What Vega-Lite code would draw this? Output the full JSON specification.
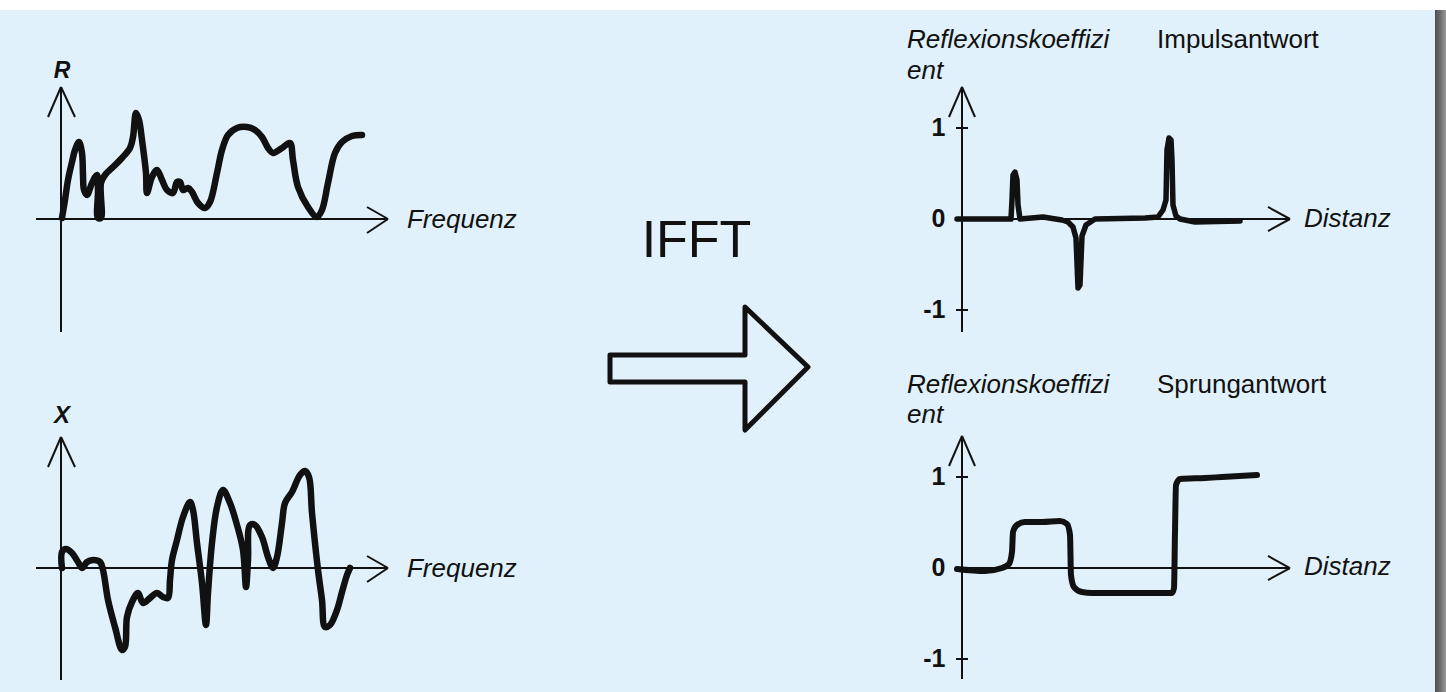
{
  "$schema": "https://vega.github.io/schema/vega-lite/v6.json",
  "background": "#ffffff",
  "padding": {"left": 0, "top": 10, "right": 0, "bottom": 0},
  "spacing": 0,
  "config": {
    "view": {"stroke": null, "fill": "#e0f1fb"},
    "text": {"font": "Liberation Sans", "color": "#111111"},
    "rule": {"color": "#111111"},
    "line": {"color": "#111111"}
  },
  "datasets": {
    "R": [
      {"i":0,"frequenz":0.033,"wert":0.01},{"i":1,"frequenz":0.133,"wert":0.19},{"i":2,"frequenz":0.233,"wert":0.39},{"i":3,"frequenz":0.367,"wert":0.57},{"i":4,"frequenz":0.467,"wert":0.69},{"i":5,"frequenz":0.6,"wert":0.77},{"i":6,"frequenz":0.7,"wert":0.66},{"i":7,"frequenz":0.733,"wert":0.44},{"i":8,"frequenz":0.767,"wert":0.29},{"i":9,"frequenz":0.867,"wert":0.24},{"i":10,"frequenz":1.033,"wert":0.36},{"i":11,"frequenz":1.2,"wert":0.44},{"i":12,"frequenz":1.233,"wert":0.29},{"i":13,"frequenz":1.233,"wert":0.01},{"i":14,"frequenz":1.333,"wert":0.01},{"i":15,"frequenz":1.333,"wert":0.36},{"i":16,"frequenz":1.467,"wert":0.44},{"i":17,"frequenz":1.733,"wert":0.52},{"i":18,"frequenz":2.033,"wert":0.61},{"i":19,"frequenz":2.3,"wert":0.71},{"i":20,"frequenz":2.4,"wert":0.82},{"i":21,"frequenz":2.5,"wert":1.06},{"i":22,"frequenz":2.6,"wert":0.99},{"i":23,"frequenz":2.7,"wert":0.79},{"i":24,"frequenz":2.833,"wert":0.46},{"i":25,"frequenz":2.867,"wert":0.26},{"i":26,"frequenz":3.033,"wert":0.42},{"i":27,"frequenz":3.2,"wert":0.49},{"i":28,"frequenz":3.367,"wert":0.39},{"i":29,"frequenz":3.533,"wert":0.29},{"i":30,"frequenz":3.733,"wert":0.26},{"i":31,"frequenz":3.867,"wert":0.37},{"i":32,"frequenz":3.967,"wert":0.37},{"i":33,"frequenz":4.067,"wert":0.29},{"i":34,"frequenz":4.233,"wert":0.31},{"i":35,"frequenz":4.367,"wert":0.27},{"i":36,"frequenz":4.567,"wert":0.16},{"i":37,"frequenz":4.8,"wert":0.11},{"i":38,"frequenz":4.967,"wert":0.17},{"i":39,"frequenz":5.2,"wert":0.46},{"i":40,"frequenz":5.367,"wert":0.69},{"i":41,"frequenz":5.567,"wert":0.84},{"i":42,"frequenz":5.867,"wert":0.91},{"i":43,"frequenz":6.2,"wert":0.92},{"i":44,"frequenz":6.467,"wert":0.89},{"i":45,"frequenz":6.7,"wert":0.82},{"i":46,"frequenz":6.9,"wert":0.71},{"i":47,"frequenz":7.067,"wert":0.66},{"i":48,"frequenz":7.367,"wert":0.71},{"i":49,"frequenz":7.633,"wert":0.76},{"i":50,"frequenz":7.733,"wert":0.59},{"i":51,"frequenz":7.9,"wert":0.32},{"i":52,"frequenz":8.233,"wert":0.12},{"i":53,"frequenz":8.533,"wert":0.02},{"i":54,"frequenz":8.7,"wert":0.09},{"i":55,"frequenz":8.9,"wert":0.36},{"i":56,"frequenz":9.133,"wert":0.66},{"i":57,"frequenz":9.367,"wert":0.77},{"i":58,"frequenz":9.7,"wert":0.83},{"i":59,"frequenz":10.033,"wert":0.84}
    ],
    "X": [
      {"i":0,"frequenz":0.033,"wert":0},{"i":1,"frequenz":0.033,"wert":0.16},{"i":2,"frequenz":0.167,"wert":0.19},{"i":3,"frequenz":0.367,"wert":0.15},{"i":4,"frequenz":0.567,"wert":0.06},{"i":5,"frequenz":0.7,"wert":0.0},{"i":6,"frequenz":0.867,"wert":0.06},{"i":7,"frequenz":1.067,"wert":0.08},{"i":8,"frequenz":1.3,"wert":0.06},{"i":9,"frequenz":1.4,"wert":-0.02},{"i":10,"frequenz":1.567,"wert":-0.32},{"i":11,"frequenz":1.8,"wert":-0.59},{"i":12,"frequenz":2.033,"wert":-0.82},{"i":13,"frequenz":2.133,"wert":-0.79},{"i":14,"frequenz":2.2,"wert":-0.49},{"i":15,"frequenz":2.367,"wert":-0.34},{"i":16,"frequenz":2.567,"wert":-0.25},{"i":17,"frequenz":2.733,"wert":-0.35},{"i":18,"frequenz":2.967,"wert":-0.30},{"i":19,"frequenz":3.2,"wert":-0.25},{"i":20,"frequenz":3.4,"wert":-0.29},{"i":21,"frequenz":3.567,"wert":-0.30},{"i":22,"frequenz":3.633,"wert":-0.12},{"i":23,"frequenz":3.7,"wert":0.08},{"i":24,"frequenz":3.867,"wert":0.28},{"i":25,"frequenz":4.067,"wert":0.51},{"i":26,"frequenz":4.3,"wert":0.66},{"i":27,"frequenz":4.4,"wert":0.58},{"i":28,"frequenz":4.533,"wert":0.25},{"i":29,"frequenz":4.7,"wert":-0.15},{"i":30,"frequenz":4.833,"wert":-0.57},{"i":31,"frequenz":4.9,"wert":-0.25},{"i":32,"frequenz":5.033,"wert":0.25},{"i":33,"frequenz":5.2,"wert":0.61},{"i":34,"frequenz":5.4,"wert":0.78},{"i":35,"frequenz":5.633,"wert":0.65},{"i":36,"frequenz":5.867,"wert":0.43},{"i":37,"frequenz":6.067,"wert":0.18},{"i":38,"frequenz":6.167,"wert":-0.19},{"i":39,"frequenz":6.233,"wert":0.08},{"i":40,"frequenz":6.3,"wert":0.43},{"i":41,"frequenz":6.467,"wert":0.43},{"i":42,"frequenz":6.7,"wert":0.31},{"i":43,"frequenz":6.9,"wert":0.11},{"i":44,"frequenz":7.067,"wert":0.0},{"i":45,"frequenz":7.2,"wert":0.11},{"i":46,"frequenz":7.367,"wert":0.45},{"i":47,"frequenz":7.467,"wert":0.65},{"i":48,"frequenz":7.7,"wert":0.76},{"i":49,"frequenz":7.967,"wert":0.93},{"i":50,"frequenz":8.133,"wert":0.97},{"i":51,"frequenz":8.267,"wert":0.91},{"i":52,"frequenz":8.367,"wert":0.55},{"i":53,"frequenz":8.567,"wert":-0.02},{"i":54,"frequenz":8.7,"wert":-0.32},{"i":55,"frequenz":8.8,"wert":-0.59},{"i":56,"frequenz":8.967,"wert":-0.57},{"i":57,"frequenz":9.2,"wert":-0.42},{"i":58,"frequenz":9.367,"wert":-0.24},{"i":59,"frequenz":9.533,"wert":-0.07},{"i":60,"frequenz":9.633,"wert":0.0}
    ],
    "impuls": [
      {"i":0,"distanz":-0.167,"koeff":0},{"i":1,"distanz":1.633,"koeff":0},{"i":2,"distanz":1.667,"koeff":0.209},{"i":3,"distanz":1.7,"koeff":0.484},{"i":4,"distanz":1.767,"koeff":0.516},{"i":5,"distanz":1.833,"koeff":0.429},{"i":6,"distanz":1.867,"koeff":0.154},{"i":7,"distanz":1.933,"koeff":0},{"i":8,"distanz":2.7,"koeff":0.022},{"i":9,"distanz":3.333,"koeff":-0.011},{"i":10,"distanz":3.533,"koeff":-0.033},{"i":11,"distanz":3.7,"koeff":-0.088},{"i":12,"distanz":3.8,"koeff":-0.209},{"i":13,"distanz":3.867,"koeff":-0.758},{"i":14,"distanz":3.933,"koeff":-0.725},{"i":15,"distanz":4.0,"koeff":-0.187},{"i":16,"distanz":4.133,"koeff":-0.066},{"i":17,"distanz":4.433,"koeff":0},{"i":18,"distanz":6.1,"koeff":0.011},{"i":19,"distanz":6.533,"koeff":0.022},{"i":20,"distanz":6.7,"koeff":0.099},{"i":21,"distanz":6.8,"koeff":0.209},{"i":22,"distanz":6.833,"koeff":0.758},{"i":23,"distanz":6.9,"koeff":0.89},{"i":24,"distanz":6.967,"koeff":0.868},{"i":25,"distanz":7.0,"koeff":0.648},{"i":26,"distanz":7.033,"koeff":0.154},{"i":27,"distanz":7.133,"koeff":0.033},{"i":28,"distanz":7.267,"koeff":0},{"i":29,"distanz":7.767,"koeff":-0.033},{"i":30,"distanz":9.267,"koeff":-0.022}
    ],
    "sprung": [
      {"i":0,"distanz":-0.167,"koeff":-0.011},{"i":1,"distanz":0.767,"koeff":-0.033},{"i":2,"distanz":1.333,"koeff":0},{"i":3,"distanz":1.567,"koeff":0.044},{"i":4,"distanz":1.667,"koeff":0.176},{"i":5,"distanz":1.7,"koeff":0.396},{"i":6,"distanz":1.833,"koeff":0.473},{"i":7,"distanz":2.1,"koeff":0.505},{"i":8,"distanz":2.667,"koeff":0.505},{"i":9,"distanz":3.267,"koeff":0.516},{"i":10,"distanz":3.5,"koeff":0.484},{"i":11,"distanz":3.6,"koeff":0.363},{"i":12,"distanz":3.633,"koeff":-0.077},{"i":13,"distanz":3.733,"koeff":-0.209},{"i":14,"distanz":4.0,"koeff":-0.264},{"i":15,"distanz":4.333,"koeff":-0.275},{"i":16,"distanz":7.0,"koeff":-0.275},{"i":17,"distanz":7.067,"koeff":-0.22},{"i":18,"distanz":7.1,"koeff":0.396},{"i":19,"distanz":7.133,"koeff":0.912},{"i":20,"distanz":7.267,"koeff":0.978},{"i":21,"distanz":8.1,"koeff":0.989},{"i":22,"distanz":8.667,"koeff":1.0},{"i":23,"distanz":9.833,"koeff":1.022}
    ],
    "achsen_R": [
      {"frequenz":0,"wert":-1.13,"frequenz2":0,"wert2":1.32},
      {"frequenz":0,"wert":1.32,"frequenz2":-0.433,"wert2":1.02},
      {"frequenz":0,"wert":1.32,"frequenz2":0.467,"wert2":1.02},
      {"frequenz":-0.833,"wert":0,"frequenz2":10.9,"wert2":0},
      {"frequenz":10.9,"wert":0,"frequenz2":10.2,"wert2":0.12},
      {"frequenz":10.9,"wert":0,"frequenz2":10.2,"wert2":-0.14}
    ],
    "achsen_X": [
      {"frequenz":0,"wert":-1.12,"frequenz2":0,"wert2":1.31},
      {"frequenz":0,"wert":1.31,"frequenz2":-0.433,"wert2":1.01},
      {"frequenz":0,"wert":1.31,"frequenz2":0.467,"wert2":1.01},
      {"frequenz":-0.833,"wert":0,"frequenz2":10.9,"wert2":0},
      {"frequenz":10.9,"wert":0,"frequenz2":10.2,"wert2":0.12},
      {"frequenz":10.9,"wert":0,"frequenz2":10.2,"wert2":-0.14}
    ],
    "achsen_impuls": [
      {"distanz":0,"koeff":-1.242,"distanz2":0,"koeff2":1.451},
      {"distanz":0,"koeff":1.451,"distanz2":-0.433,"koeff2":1.121},
      {"distanz":0,"koeff":1.451,"distanz2":0.433,"koeff2":1.121},
      {"distanz":-0.233,"koeff":0,"distanz2":10.933,"koeff2":0},
      {"distanz":10.933,"koeff":0,"distanz2":10.2,"koeff2":0.132},
      {"distanz":10.933,"koeff":0,"distanz2":10.2,"koeff2":-0.132},
      {"distanz":-0.2,"koeff":1,"distanz2":0.2,"koeff2":1},
      {"distanz":-0.2,"koeff":-1,"distanz2":0.2,"koeff2":-1}
    ],
    "achsen_sprung": [
      {"distanz":0,"koeff":-1.22,"distanz2":0,"koeff2":1.451},
      {"distanz":0,"koeff":1.451,"distanz2":-0.433,"koeff2":1.121},
      {"distanz":0,"koeff":1.451,"distanz2":0.433,"koeff2":1.121},
      {"distanz":-0.233,"koeff":0,"distanz2":10.933,"koeff2":0},
      {"distanz":10.933,"koeff":0,"distanz2":10.2,"koeff2":0.132},
      {"distanz":10.933,"koeff":0,"distanz2":10.2,"koeff2":-0.132},
      {"distanz":-0.2,"koeff":1,"distanz2":0.2,"koeff2":1},
      {"distanz":-0.2,"koeff":-1,"distanz2":0.2,"koeff2":-1}
    ],
    "ticklabels": [
      {"distanz":-0.55,"koeff":1,"label":"1"},
      {"distanz":-0.55,"koeff":0,"label":"0"},
      {"distanz":-0.55,"koeff":-1,"label":"-1"}
    ],
    "pfeil": [
      {"i":0,"u":5.0,"v":33.7},{"i":1,"u":18.5,"v":33.7},{"i":2,"u":18.5,"v":38.5},{"i":3,"u":24.8,"v":32.5},{"i":4,"u":18.5,"v":26.2},{"i":5,"u":18.5,"v":31.0},{"i":6,"u":5.0,"v":31.0},{"i":7,"u":5.0,"v":33.7}
    ]
  },
  "hconcat": [
    {
      "spacing": 0,
      "vconcat": [
        {
          "width": 560, "height": 336,
          "encoding": {
            "x": {"field": "frequenz", "type": "quantitative", "scale": {"domain": [-2.0333, 16.6333], "nice": false, "zero": false}, "axis": null},
            "y": {"field": "wert", "type": "quantitative", "scale": {"domain": [-1.27, 2.09], "nice": false, "zero": false}, "axis": null}
          },
          "layer": [
            {"data": {"name": "achsen_R"}, "mark": {"type": "rule", "strokeWidth": 2}, "encoding": {"x2": {"field": "frequenz2"}, "y2": {"field": "wert2"}}},
            {"data": {"name": "R"}, "mark": {"type": "line", "strokeWidth": 6.5, "interpolate": "catmull-rom", "strokeJoin": "round", "strokeCap": "round"}, "encoding": {"order": {"field": "i", "type": "quantitative"}}},
            {"data": {"values": [{"frequenz": 0.033, "wert": 1.48, "label": "R"}]}, "mark": {"type": "text", "fontSize": 23, "fontWeight": "bold", "fontStyle": "italic", "align": "center", "baseline": "middle"}, "encoding": {"text": {"field": "label"}}},
            {"data": {"values": [{"frequenz": 11.533, "wert": -0.09, "label": "Frequenz"}]}, "mark": {"type": "text", "fontSize": 26, "fontStyle": "italic", "align": "left", "baseline": "alphabetic"}, "encoding": {"text": {"field": "label"}}}
          ]
        },
        {
          "width": 560, "height": 346,
          "encoding": {
            "x": {"field": "frequenz", "type": "quantitative", "scale": {"domain": [-2.0333, 16.6333], "nice": false, "zero": false}, "axis": null},
            "y": {"field": "wert", "type": "quantitative", "scale": {"domain": [-1.24, 2.22], "nice": false, "zero": false}, "axis": null}
          },
          "layer": [
            {"data": {"name": "achsen_X"}, "mark": {"type": "rule", "strokeWidth": 2}, "encoding": {"x2": {"field": "frequenz2"}, "y2": {"field": "wert2"}}},
            {"data": {"name": "X"}, "mark": {"type": "line", "strokeWidth": 6.5, "interpolate": "catmull-rom", "strokeJoin": "round", "strokeCap": "round"}, "encoding": {"order": {"field": "i", "type": "quantitative"}}},
            {"data": {"values": [{"frequenz": 0.033, "wert": 1.52, "label": "X"}]}, "mark": {"type": "text", "fontSize": 24, "fontWeight": "bold", "fontStyle": "italic", "align": "center", "baseline": "middle"}, "encoding": {"text": {"field": "label"}}},
            {"data": {"values": [{"frequenz": 11.533, "wert": -0.09, "label": "Frequenz"}]}, "mark": {"type": "text", "fontSize": 26, "fontStyle": "italic", "align": "left", "baseline": "alphabetic"}, "encoding": {"text": {"field": "label"}}}
          ]
        }
      ]
    },
    {
      "width": 320, "height": 682,
      "encoding": {
        "x": {"field": "u", "type": "quantitative", "scale": {"domain": [0, 32], "nice": false, "zero": false}, "axis": null},
        "y": {"field": "v", "type": "quantitative", "scale": {"domain": [0, 68.2], "nice": false, "zero": false}, "axis": null}
      },
      "layer": [
        {"data": {"name": "pfeil"}, "mark": {"type": "line", "strokeWidth": 5, "strokeJoin": "round", "strokeCap": "round"}, "encoding": {"order": {"field": "i", "type": "quantitative"}}},
        {"data": {"values": [{"u": 13.65, "v": 43.5, "label": "IFFT"}]}, "mark": {"type": "text", "fontSize": 52, "align": "center", "baseline": "alphabetic"}, "encoding": {"text": {"field": "label"}}}
      ]
    },
    {
      "spacing": 0,
      "vconcat": [
        {
          "width": 555, "height": 336,
          "encoding": {
            "x": {"field": "distanz", "type": "quantitative", "scale": {"domain": [-2.7333, 15.7667], "nice": false, "zero": false}, "axis": null},
            "y": {"field": "koeff", "type": "quantitative", "scale": {"domain": [-1.3956, 2.2967], "nice": false, "zero": false}, "axis": null}
          },
          "layer": [
            {"data": {"name": "achsen_impuls"}, "mark": {"type": "rule", "strokeWidth": 2}, "encoding": {"x2": {"field": "distanz2"}, "y2": {"field": "koeff2"}}},
            {"data": {"name": "impuls"}, "mark": {"type": "line", "strokeWidth": 5.5, "strokeJoin": "round", "strokeCap": "round"}, "encoding": {"order": {"field": "i", "type": "quantitative"}}},
            {"data": {"name": "ticklabels"}, "mark": {"type": "text", "fontSize": 25, "fontWeight": "bold", "align": "right", "baseline": "middle"}, "encoding": {"text": {"field": "label"}}},
            {"data": {"values": [{"distanz": -1.833, "koeff": 1.879, "label": "Reflexionskoeffizi"}, {"distanz": -1.833, "koeff": 1.538, "label": "ent"}, {"distanz": 11.4, "koeff": -0.088, "label": "Distanz"}]}, "mark": {"type": "text", "fontSize": 26, "fontStyle": "italic", "align": "left", "baseline": "alphabetic"}, "encoding": {"text": {"field": "label"}}},
            {"data": {"values": [{"distanz": 6.5, "koeff": 1.879, "label": "Impulsantwort"}]}, "mark": {"type": "text", "fontSize": 26, "align": "left", "baseline": "alphabetic"}, "encoding": {"text": {"field": "label"}}}
          ]
        },
        {
          "width": 555, "height": 346,
          "encoding": {
            "x": {"field": "distanz", "type": "quantitative", "scale": {"domain": [-2.7333, 15.7667], "nice": false, "zero": false}, "axis": null},
            "y": {"field": "koeff", "type": "quantitative", "scale": {"domain": [-1.3626, 2.4396], "nice": false, "zero": false}, "axis": null}
          },
          "layer": [
            {"data": {"name": "achsen_sprung"}, "mark": {"type": "rule", "strokeWidth": 2}, "encoding": {"x2": {"field": "distanz2"}, "y2": {"field": "koeff2"}}},
            {"data": {"name": "sprung"}, "mark": {"type": "line", "strokeWidth": 6, "interpolate": "monotone", "strokeJoin": "round", "strokeCap": "round"}, "encoding": {"order": {"field": "i", "type": "quantitative"}}},
            {"data": {"name": "ticklabels"}, "mark": {"type": "text", "fontSize": 25, "fontWeight": "bold", "align": "right", "baseline": "middle"}, "encoding": {"text": {"field": "label"}}},
            {"data": {"values": [{"distanz": -1.833, "koeff": 1.923, "label": "Reflexionskoeffizi"}, {"distanz": -1.833, "koeff": 1.593, "label": "ent"}, {"distanz": 11.4, "koeff": -0.077, "label": "Distanz"}]}, "mark": {"type": "text", "fontSize": 26, "fontStyle": "italic", "align": "left", "baseline": "alphabetic"}, "encoding": {"text": {"field": "label"}}},
            {"data": {"values": [{"distanz": 6.5, "koeff": 1.923, "label": "Sprungantwort"}]}, "mark": {"type": "text", "fontSize": 26, "align": "left", "baseline": "alphabetic"}, "encoding": {"text": {"field": "label"}}}
          ]
        }
      ]
    },
    {
      "width": 11, "height": 682,
      "data": {"values": [{"a": 0, "b": 1}]},
      "mark": {"type": "rect", "fill": {"gradient": "linear", "x1": 0, "x2": 1, "y1": 0, "y2": 0, "stops": [{"offset": 0, "color": "#4f4f4f"}, {"offset": 0.5, "color": "#6e6e6e"}, {"offset": 1, "color": "#9a9a9a"}]}},
      "encoding": {
        "x": {"field": "a", "type": "quantitative", "scale": {"domain": [0, 1], "nice": false}, "axis": null},
        "x2": {"field": "b"},
        "y": {"field": "a", "type": "quantitative", "scale": {"domain": [0, 1], "nice": false}, "axis": null},
        "y2": {"field": "b"}
      }
    }
  ]
}
